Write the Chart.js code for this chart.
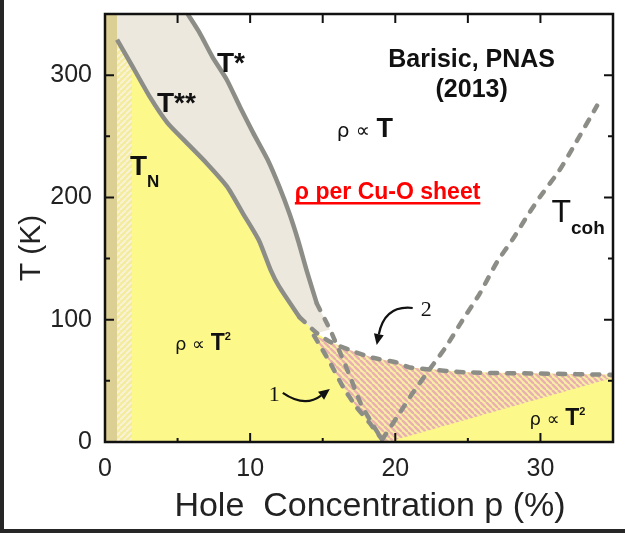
<!DOCTYPE html>
<html>
<head>
<meta charset="utf-8">
<title>Phase diagram - Barisic PNAS 2013</title>
<script src="https://cdn.jsdelivr.net/npm/chart.js@4/dist/chart.umd.min.js"></script>
<style>
  html, body { margin: 0; padding: 0; background: #fff; }
  canvas { display: block; }
</style>
</head>
<body>
<canvas id="phaseChart" width="625" height="533"></canvas>
<script>
// --- Values (p in %, T in K) ---
const xTickValues = [0, 10, 20, 30];
const yTickValues = [0, 100, 200, 300];

// T* crossover: solid part, then dashed part
const tStarP = [5.7, 6.5, 7.4, 8.4, 9.3, 10.2, 11.2, 12.0, 12.7, 13.3, 13.9, 14.6];
const tStarT = [350, 335, 315, 296, 274, 253, 231, 209, 187, 165, 140, 113];
const tStarDashP = [14.6, 15.5, 16.2, 16.9, 17.6, 18.4, 19.1];
const tStarDashT = [113, 92, 73, 53, 32, 15, 2];

// T** / T_N line (solid), then dashed branch "2" running out to p = 35
const tNP = [0.83, 1.9, 3.1, 4.3, 5.6, 7.0, 8.4, 9.5, 10.6, 11.4, 12.0, 13.4];
const tNT = [329, 307, 282, 261, 245, 228, 209, 187, 165, 141, 127, 102];
const branch2P = [13.4, 14.6, 15.5, 16.9, 18.4, 20.1, 21.0, 24.9, 29.9, 35];
const branch2T = [102, 89, 82, 75, 69, 65, 61, 57, 56, 55];

// dashed branch "1" falling to T = 0
const branch1P = [14.4, 15.5, 16.4, 17.3, 18.2, 19.1];
const branch1T = [87, 65, 45, 29, 16, 2];

// T_coh (dashed)
const tCohP = [19.1, 20.1, 21.2, 22.4, 23.5, 24.6, 25.8, 27.0, 28.1, 29.1, 30.0, 31.3, 32.3, 33.9];
const tCohT = [2, 20, 40, 60, 78, 99, 121, 147, 166, 185, 201, 222, 242, 275];

// lower edge of the hatched crossover wedge
const wedgeEdgeP = [35, 19.5];
const wedgeEdgeT = [52.5, 0];

// strips along the left edge (AF insulator / hatched)
const stripEdgeP = [0, 0.83, 1.86];

// --- Helpers ---
const FONT = '"Liberation Sans", Arial, sans-serif';
const SYM = '"DejaVu Sans", sans-serif';
const SERIF = '"Liberation Serif", "Times New Roman", serif';
const LINE_GRAY = '#8d8d88';
const pts = (ps, ts) => ps.map((p, i) => ({ x: p, y: ts[i] }));

const canvas = document.getElementById('phaseChart');
const ctx0 = canvas.getContext('2d');

const stripes = (bg, fg, size, width, slash) => {
    const c = document.createElement('canvas');
    c.width = size; c.height = size;
    const g = c.getContext('2d');
    g.fillStyle = bg;
    g.fillRect(0, 0, size, size);
    g.strokeStyle = fg;
    g.lineWidth = width;
    for (let k = -1; k <= 1; k++) {
        g.beginPath();
        if (slash) { g.moveTo(k * size, size); g.lineTo(k * size + size, 0); }
        else { g.moveTo(k * size, 0); g.lineTo(k * size + size, size); }
        g.stroke();
    }
    return ctx0.createPattern(c, 'repeat');
};

const pinkHatch = stripes('#f8eea4', '#eab0b0', 6, 2.4, false);
const leftHatch = stripes('#f4eb9c', '#f8f3d6', 6, 2.0, true);

// polygons built from the curves above
const yellowArea = [{ x: stripEdgeP[1], y: 0 }, ...pts(tNP, tNT), ...pts(branch2P, branch2T).slice(1), { x: 35, y: 0 }];
const beigeArea = [{ x: stripEdgeP[1], y: 350 }, ...pts(tStarP, tStarT), pts(tStarDashP, tStarDashT)[1], pts(branch2P, branch2T)[1], ...pts(tNP, tNT).reverse()];
const wedgeArea = [pts(branch1P, branch1T)[0], ...pts(branch2P, branch2T).slice(2), ...pts(wedgeEdgeP, wedgeEdgeT), ...pts(branch1P, branch1T).reverse()];
const tanStrip = [{ x: stripEdgeP[0], y: 0 }, { x: stripEdgeP[1], y: 0 }, { x: stripEdgeP[1], y: 350 }, { x: stripEdgeP[0], y: 350 }];
const hatchStrip = [{ x: stripEdgeP[1], y: 0 }, { x: stripEdgeP[2], y: 0 }, { x: stripEdgeP[2], y: 307 }, { x: stripEdgeP[1], y: 329 }];

const area = (data, color, order) => ({
    data, showLine: true, fill: 'shape', backgroundColor: color,
    borderWidth: 0, pointRadius: 0, order
});
const curve = (data, dashed) => ({
    data, showLine: true, fill: false, borderColor: LINE_GRAY,
    borderWidth: 4.5, borderDash: dashed ? [7, 10] : [], borderCapStyle: dashed ? 'round' : 'butt',
    pointRadius: 0, tension: 0.2, order: 1
});

// --- Annotations (data coordinates) ---
const notes = [
    { p: 7.71, t: 302.6, parts: [{ text: 'T*', font: `bold 28px ${FONT}` }] },
    { p: 3.58, t: 269.9, parts: [{ text: 'T**', font: `bold 28px ${FONT}` }] },
    { p: 1.72, t: 218.3, parts: [{ text: 'T', font: `bold 28px ${FONT}` }, { text: 'N', font: `bold 17px ${FONT}`, dy: 12 }] },
    { p: 15.97, t: 249.4, parts: [{ text: 'ρ ∝ ', font: `20px ${SYM}` }, { text: 'T', font: `bold 27px ${FONT}` }] },
    { p: 4.82, t: 75.2, parts: [{ text: 'ρ ∝ ', font: `18px ${SYM}` }, { text: 'T', font: `bold 23px ${FONT}` }, { text: '2', font: `bold 11px ${FONT}`, dy: -10 }] },
    { p: 29.25, t: 13.9, parts: [{ text: 'ρ ∝ ', font: `18px ${SYM}` }, { text: 'T', font: `bold 23px ${FONT}` }, { text: '2', font: `bold 11px ${FONT}`, dy: -10 }] },
    { p: 30.76, t: 179.9, parts: [{ text: 'T', font: `32px ${FONT}` }, { text: 'coh', font: `bold 19px ${FONT}`, dy: 12 }] },
    { p: 11.29, t: 33.5, parts: [{ text: '1', font: `22px ${SERIF}` }] },
    { p: 21.75, t: 103, parts: [{ text: '2', font: `22px ${SERIF}` }] },
    { p: 25.26, t: 306.6, center: true, parts: [{ text: 'Barisic, PNAS', font: `bold 25px ${FONT}` }] },
    { p: 25.26, t: 282.1, center: true, parts: [{ text: '(2013)', font: `bold 25px ${FONT}` }] },
    { p: 13.08, t: 198.7, underline: true, parts: [{ text: 'ρ per Cu-O sheet', font: `bold 23px ${FONT}`, color: '#ff0000' }] },
];
const arrows = [
    { from: [12.25, 40.1], via: [13.76, 27.8], to: [15.49, 43.3] },
    { from: [21.2, 109.6], via: [19.27, 112.1], to: [18.72, 79.3] },
];
const xTitle = 'Hole  Concentration p (%)';
const yTitle = 'T (K)';

const decorations = {
    id: 'decorations',
    beforeDraw(chart) {
        const { ctx, width, height } = chart;
        ctx.save();
        ctx.fillStyle = '#fff';
        ctx.fillRect(0, 0, width, height);
        ctx.restore();
    },
    afterDatasetsDraw(chart) {
        const { ctx, chartArea: a, scales: { x, y } } = chart;
        ctx.save();
        ctx.strokeStyle = '#111';
        ctx.fillStyle = '#111';

        // inward ticks on all four sides
        ctx.lineWidth = 2;
        ctx.beginPath();
        for (let v = 5; v < 35; v += 5) {
            const px = x.getPixelForValue(v);
            const len = v % 10 === 0 ? 9 : 4;
            ctx.moveTo(px, a.bottom); ctx.lineTo(px, a.bottom - len);
            ctx.moveTo(px, a.top); ctx.lineTo(px, a.top + 9);
        }
        for (let v = 50; v < 350; v += 50) {
            const py = y.getPixelForValue(v);
            const len = v % 100 === 0 ? 9 : 5;
            ctx.moveTo(a.left, py); ctx.lineTo(a.left + len, py);
            ctx.moveTo(a.right, py); ctx.lineTo(a.right - len, py);
        }
        ctx.stroke();
        ctx.lineWidth = 2.5;
        ctx.strokeRect(a.left, a.top, a.right - a.left, a.bottom - a.top);

        // text notes
        ctx.textBaseline = 'alphabetic';
        ctx.textAlign = 'left';
        notes.forEach(n => {
            let cx = x.getPixelForValue(n.p);
            const cy = y.getPixelForValue(n.t);
            let total = 0;
            n.parts.forEach(pt => { ctx.font = pt.font; total += ctx.measureText(pt.text).width; });
            if (n.center) cx -= total / 2;
            const x0 = cx;
            n.parts.forEach(pt => {
                ctx.font = pt.font;
                ctx.fillStyle = pt.color || '#111';
                ctx.fillText(pt.text, cx, cy + (pt.dy || 0));
                cx += ctx.measureText(pt.text).width;
            });
            if (n.underline) {
                ctx.fillStyle = n.parts[0].color || '#111';
                ctx.fillRect(x0, cy + 3, total, 2.5);
            }
        });

        // curved arrows
        ctx.strokeStyle = '#111';
        ctx.fillStyle = '#111';
        ctx.lineWidth = 2.2;
        arrows.forEach(ar => {
            const [fx, fy] = [x.getPixelForValue(ar.from[0]), y.getPixelForValue(ar.from[1])];
            const [vx, vy] = [x.getPixelForValue(ar.via[0]), y.getPixelForValue(ar.via[1])];
            const [tx, ty] = [x.getPixelForValue(ar.to[0]), y.getPixelForValue(ar.to[1])];
            const ang = Math.atan2(ty - vy, tx - vx);
            const hl = 11, hw = 5;
            const bx = tx - hl * Math.cos(ang), by = ty - hl * Math.sin(ang);
            ctx.beginPath();
            ctx.moveTo(fx, fy);
            ctx.quadraticCurveTo(vx, vy, bx, by);
            ctx.stroke();
            ctx.beginPath();
            ctx.moveTo(tx, ty);
            ctx.lineTo(bx + hw * Math.sin(ang), by - hw * Math.cos(ang));
            ctx.lineTo(bx - hw * Math.sin(ang), by + hw * Math.cos(ang));
            ctx.closePath();
            ctx.fill();
        });

        // axis titles
        ctx.fillStyle = '#222';
        ctx.textAlign = 'center';
        ctx.font = `34px ${FONT}`;
        ctx.fillText(xTitle, 370, 516);
        ctx.translate(40, 248);
        ctx.rotate(-Math.PI / 2);
        ctx.font = `30px ${FONT}`;
        ctx.fillText(yTitle, 0, 0);
        ctx.restore();
    },
    afterDraw(chart) {
        // dark frame edges of the original screenshot
        const { ctx, width, height } = chart;
        ctx.save();
        ctx.fillStyle = '#262626';
        ctx.fillRect(0, 0, 4, height);
        ctx.fillRect(0, height - 4, width, 4);
        ctx.restore();
    }
};

new Chart(canvas, {
    type: 'scatter',
    data: {
        datasets: [
            // lines on top
            curve(pts(tStarP, tStarT), false),
            curve(pts(tStarDashP, tStarDashT), true),
            curve(pts(tNP, tNT), false),
            curve(pts(branch2P, branch2T), true),
            curve(pts(branch1P, branch1T), true),
            curve(pts(tCohP, tCohT), true),
            // filled regions underneath (higher order = drawn first)
            area(wedgeArea, pinkHatch, 10),
            area(hatchStrip, leftHatch, 11),
            area(tanStrip, '#dccf94', 12),
            area(beigeArea, '#ece8de', 13),
            area(yellowArea, '#fcf98a', 14),
        ]
    },
    options: {
        responsive: false,
        animation: false,
        devicePixelRatio: 1,
        layout: { padding: { left: 0, right: 12, top: 14, bottom: 0 } },
        plugins: { legend: { display: false }, tooltip: { enabled: false } },
        scales: {
            x: {
                type: 'linear', min: 0, max: 35,
                grid: { display: false, drawTicks: false },
                border: { display: false },
                afterFit: (s) => { s.height = 91; s.paddingLeft = 0; s.paddingRight = 0; },
                afterBuildTicks: (s) => { s.ticks = xTickValues.map(v => ({ value: v })); },
                ticks: { font: { size: 25, family: FONT }, color: '#222', padding: 12, maxRotation: 0 }
            },
            y: {
                type: 'linear', min: 0, max: 350,
                grid: { display: false, drawTicks: false },
                border: { display: false },
                afterFit: (s) => { s.width = 105; s.paddingTop = 0; s.paddingBottom = 0; },
                afterBuildTicks: (s) => { s.ticks = yTickValues.map(v => ({ value: v })); },
                ticks: { font: { size: 25, family: FONT }, color: '#222', padding: 13 }
            }
        }
    },
    plugins: [decorations]
});
</script>
</body>
</html>
